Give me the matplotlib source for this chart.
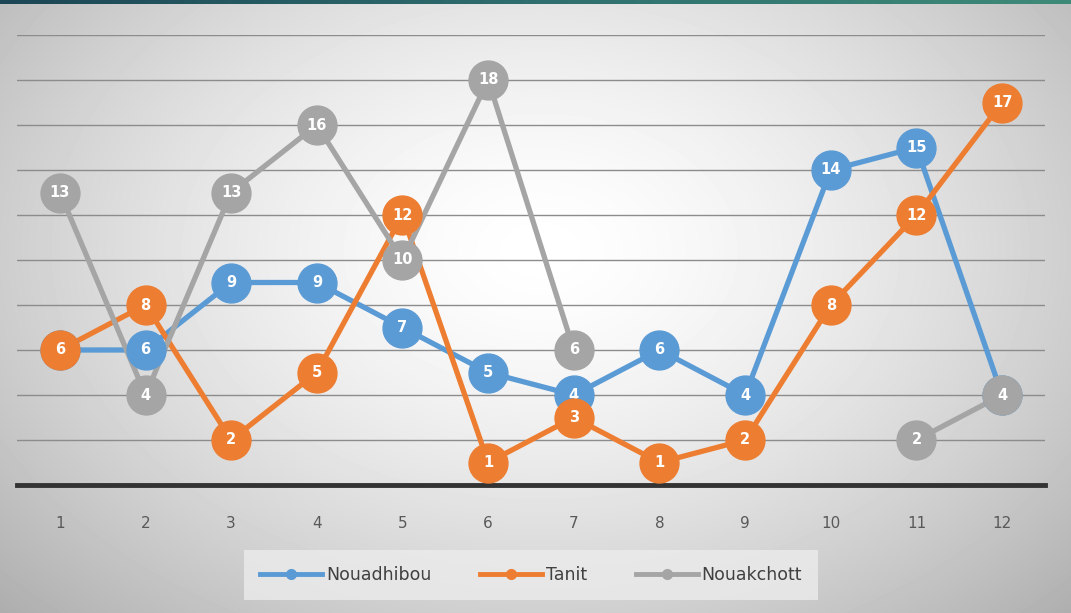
import numpy as np
import matplotlib.pyplot as plt
from matplotlib.colors import LinearSegmentedColormap

mois = list(range(1, 13))
nouadhibou = [6, 6, 9, 9, 7, 5, 4, 6, 4, 14, 15, 4]
tanit = [6, 8, 2, 5, 12, 1, 3, 1, 2, 8, 12, 17]
nouakchott = [13, 4, 13, 16, 10, 18, 6, np.nan, np.nan, np.nan, 2, 4]

noms = ["Nouadhibou", "Tanit", "Nouakchott"]
couleurs = ["#5b9bd5", "#ed7d31", "#a5a5a5"]
series = [nouadhibou, tanit, nouakchott]

fig = plt.figure(figsize=(10.71, 6.13), dpi=100)

# fond en degrade radial
bg = fig.add_axes([0, 0, 1, 1], zorder=-10)
yy, xx = np.mgrid[0:613, 0:1071]
d = np.sqrt(((xx - 540) / 620.0) ** 2 + ((yy - 250) / 430.0) ** 2)
val = np.clip(1.0 - 0.24 * d ** 1.5, 0, 1)
bg.imshow(val, cmap="gray", vmin=0, vmax=1, aspect="auto", extent=[0, 1, 0, 1])
bg.axis("off")
# bandeau du haut
bande = np.linspace(0, 1, 256).reshape(1, -1)
cm_bande = LinearSegmentedColormap.from_list("b", ["#1c4655", "#2f6f6f", "#3e8a78"])
bg.imshow(bande, cmap=cm_bande, aspect="auto", extent=[0, 1, 1 - 4 / 613, 1], zorder=2)
bg.set_xlim(0, 1)
bg.set_ylim(0, 1)

ax = fig.add_axes([17 / 1071, 128 / 613, 1028 / 1071, 450 / 613])
ax.patch.set_alpha(0)
ax.set_xlim(0.5, 12.5)
ax.set_ylim(0, 20)

for v in range(2, 21, 2):
    ax.axhline(v, color="#8c8c8c", lw=1.0, zorder=1)
ax.axhline(0, color="#333333", lw=3.5, zorder=2, clip_on=False)

# lignes d'abord, puis marqueurs
for s, c in zip(series, couleurs):
    ax.plot(mois, s, color=c, lw=3.8, zorder=3, solid_capstyle="round")
for i, (s, c) in enumerate(zip(series, couleurs)):
    ax.plot(mois, s, ls="none", marker="o", ms=28, mfc=c, mec=c, zorder=4 + i)
    for x, y in zip(mois, s):
        if np.isnan(y):
            continue
        ax.text(x, y, str(int(y)), color="white", ha="center", va="center",
                fontsize=10.5, fontweight="bold", zorder=4 + i + 0.5)

ax.set_xticks(mois)
ax.set_xticklabels([str(m) for m in mois], color="#595959", fontsize=11)
ax.tick_params(axis="x", length=0, pad=22)
ax.set_yticks([])
for sp in ax.spines.values():
    sp.set_visible(False)

handles = [plt.Line2D([], [], color=c, lw=3.5, marker="o", ms=7) for c in couleurs]
leg = fig.legend(handles, noms, loc="center", bbox_to_anchor=(531 / 1071, 1 - 575 / 613),
                 ncol=3, frameon=True, fontsize=12.5, handlelength=3.6, columnspacing=2.8,
                 handletextpad=0.2, borderpad=0.6, borderaxespad=0)
leg.get_frame().set_facecolor("#ececec")
leg.get_frame().set_edgecolor("none")
leg.get_frame().set_boxstyle("square")
for t in leg.get_texts():
    t.set_color("#404040")

fig.savefig("out.png", dpi=100)
